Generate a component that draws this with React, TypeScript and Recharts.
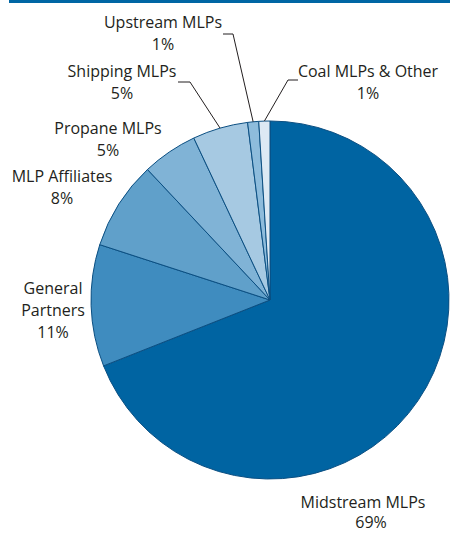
import React from "react";
import { PieChart, Pie, Cell } from "recharts";

const categories = [
  "Midstream MLPs",
  "General Partners",
  "MLP Affiliates",
  "Propane MLPs",
  "Shipping MLPs",
  "Upstream MLPs",
  "Coal MLPs & Other",
];
const shares = [69, 11, 8, 5, 5, 1, 1];
const percentLabels = ["69%", "11%", "8%", "5%", "5%", "1%", "1%"];

const colors = ["#0064a2", "#3f8cbf", "#60a0ca", "#80b3d6", "#a6c9e2", "#8ebcdc", "#dce9f4"];

type Layout = { x: number; y: number; lines?: string[]; pctX?: number; pctY?: number; leader?: [number, number][] };
const labelLayout: Record<string, Layout> = {
  "Midstream MLPs": { x: 363, y: 502, pctX: 371, pctY: 522 },
  "General Partners": { x: 53, y: 288, lines: ["General", "Partners"] },
  "MLP Affiliates": { x: 62, y: 176 },
  "Propane MLPs": { x: 108, y: 128 },
  "Shipping MLPs": { x: 122, y: 71, leader: [[178, 82], [190, 82]] },
  "Upstream MLPs": { x: 163, y: 22, leader: [[223, 34], [233, 34]] },
  "Coal MLPs & Other": { x: 368, y: 71, leader: [[298, 80], [288, 80]] },
};

const data = categories.map((name, i) => ({ name, value: shares[i], pct: percentLabels[i] }));

const RAD = Math.PI / 180;
const LINE_H = 22;

const renderLabel = (props: any) => {
  const { cx, cy, midAngle, outerRadius, index } = props;
  const d = data[index];
  const lay = labelLayout[d.name];
  const lines = lay.lines ?? [d.name];
  const ex = cx + outerRadius * Math.cos(-midAngle * RAD);
  const ey = cy + outerRadius * Math.sin(-midAngle * RAD);
  return (
    <g key={`lbl-${index}`}>
      {lay.leader && (
        <polyline
          points={[...lay.leader, [ex, ey]].map((p) => p.join(",")).join(" ")}
          fill="none"
          stroke="#231f20"
          strokeWidth={1}
        />
      )}
      {lines.map((t, k) => (
        <text
          key={k}
          x={lay.x}
          y={lay.y + k * LINE_H}
          textAnchor="middle"
          dominantBaseline="central"
          fill="#231f20"
          fontSize={16}
          fontFamily="'Open Sans', sans-serif"
        >
          {t}
        </text>
      ))}
      <text
        x={lay.pctX ?? lay.x}
        y={lay.pctY ?? lay.y + lines.length * LINE_H}
        textAnchor="middle"
        dominantBaseline="central"
        fill="#231f20"
        fontSize={16}
        fontFamily="'Open Sans', sans-serif"
      >
        {d.pct}
      </text>
    </g>
  );
};

export default function App() {
  return (
    <div style={{ position: "absolute", left: 0, top: 0, width: 450, height: 533, background: "#fff" }}>
      <div style={{ position: "absolute", left: 9, top: 0, width: 441, height: 3, background: "#0066a4" }} />
      <PieChart width={450} height={533} margin={{ top: 0, right: 0, bottom: 0, left: 0 }}>
        <Pie
          data={data}
          dataKey="value"
          nameKey="name"
          cx={270}
          cy={300}
          outerRadius={179}
          startAngle={90}
          endAngle={-270}
          stroke="#0b4f82"
          strokeWidth={1}
          label={renderLabel}
          labelLine={false}
          isAnimationActive={false}
        >
          {data.map((d, i) => (
            <Cell key={d.name} fill={colors[i]} />
          ))}
        </Pie>
      </PieChart>
    </div>
  );
}
